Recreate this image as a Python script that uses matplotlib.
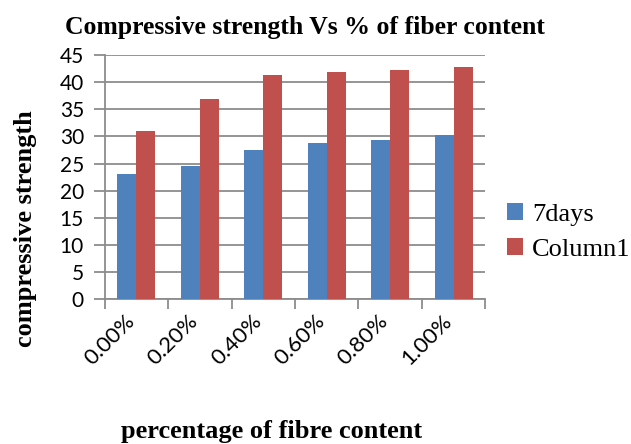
import numpy as np
import matplotlib
matplotlib.use("Agg")
import matplotlib.pyplot as plt
from matplotlib.transforms import ScaledTranslation

# data
categories = ["0.00%", "0.20%", "0.40%", "0.60%", "0.80%", "1.00%"]
days7 = [23.1, 24.5, 27.5, 28.8, 29.3, 30.3]
column1 = [31.0, 36.9, 41.3, 41.9, 42.2, 42.8]

blue = "#4f81bd"
red = "#c0504d"
grid_grey = "#8c8c8c"

fig = plt.figure(figsize=(6.31, 4.44), dpi=100)
ax = fig.add_axes([0.166, 0.326, 0.603, 0.550])

x = np.arange(len(categories))
w = 0.3
ax.bar(x - w / 2, days7, w, color=blue, label="7days", zorder=3)
ax.bar(x + w / 2, column1, w, color=red, label="Column1", zorder=3)

ax.set_xlim(-0.5, len(categories) - 0.5)
ax.set_ylim(0, 45)
ax.set_yticks(np.arange(0, 46, 5))
ax.yaxis.grid(True, color=grid_grey, linewidth=1.3, zorder=0)

# ticks sit on the category boundaries
ax.set_xticks(np.arange(-0.5, len(categories)))
ax.set_xticklabels([])
ax.tick_params(axis="x", length=7.5, width=1.3, color=grid_grey)
ax.tick_params(axis="y", length=8, width=1.3, color=grid_grey, labelsize=15, pad=7)
for lab in ax.get_yticklabels():
    lab.set_family("Lato")

# rotated category labels, end of text just under each category centre
shift = ScaledTranslation(-12 / 100, -12 / 100, fig.dpi_scale_trans)
for i, c in enumerate(categories):
    ax.text(x[i], 0, c, transform=ax.get_xaxis_transform() + shift,
            rotation=45, rotation_mode="anchor", ha="right", va="top",
            family="Lato", fontsize=16)

for side in ["top", "right"]:
    ax.spines[side].set_visible(False)
for side in ["left", "bottom"]:
    ax.spines[side].set_color(grid_grey)
    ax.spines[side].set_linewidth(1.3)

serif = "Liberation Serif"
fig.text(0.483, 0.923, "Compressive strength Vs % of fiber content",
         ha="center", va="baseline", family=serif, fontweight="bold", fontsize=18.5)
fig.text(0.041, 0.486, "compressive strength", rotation=90,
         ha="center", va="center", family=serif, fontweight="bold", fontsize=19)
fig.text(0.431, 0.0135, "percentage of fibre content",
         ha="center", va="baseline", family=serif, fontweight="bold", fontsize=19)

fig.legend(loc="center left", bbox_to_anchor=(507 / 631, 1 - 232 / 444),
           frameon=False, prop={"family": serif, "size": 19},
           handlelength=0.6, handleheight=0.6, handletextpad=0.35,
           labelspacing=0.45, borderpad=0, borderaxespad=0)

fig.savefig("out.png", dpi=100)
